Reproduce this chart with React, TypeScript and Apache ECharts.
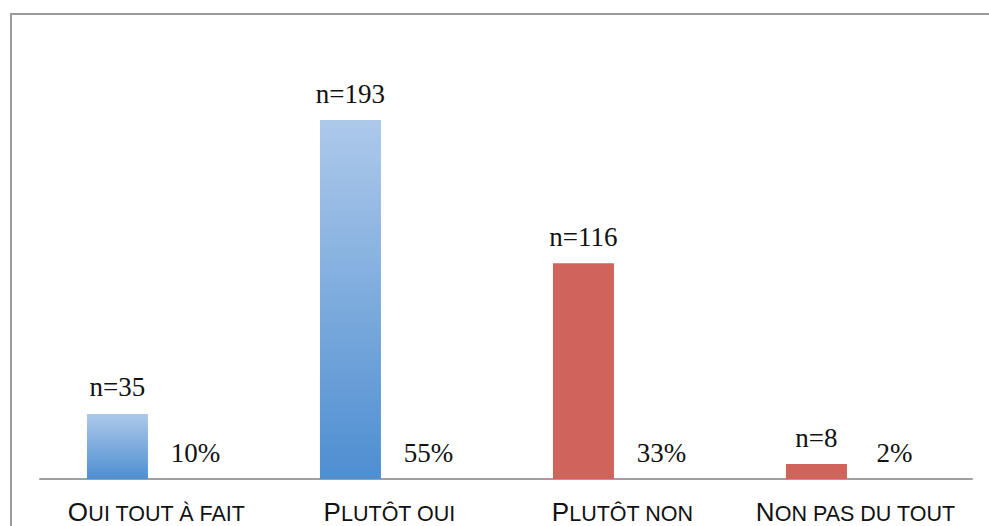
import React, { useEffect, useRef } from "react";
import * as echarts from "echarts";

// Survey answers, respondent counts and shares
const categories = ["Oui tout à fait", "Plutôt oui", "Plutôt non", "Non pas du tout"];
const counts = [35, 193, 116, 8];
const shares = [10, 55, 33, 2];

const blueGradient = new echarts.graphic.LinearGradient(0, 0, 0, 1, [
  { offset: 0, color: "#adc9ea" },
  { offset: 1, color: "#4e8ed1" },
]);
const red = "#d0645b";

// Small-caps style: first letter large, rest upper case in smaller size
function smallCaps(label: string): string {
  const first = label.charAt(0).toUpperCase();
  const rest = label.slice(1).toUpperCase();
  return `{a|${first}}{b|${rest}}`;
}

export default function App() {
  const ref = useRef<HTMLDivElement>(null);

  useEffect(() => {
    if (!ref.current) return;
    const chart = echarts.init(ref.current, undefined, { renderer: "svg" });
    chart.setOption({
      animation: false,
      grid: { left: 40, right: 17, top: 107, bottom: 47, containLabel: false },
      graphic: [
        {
          type: "rect",
          shape: { x: 11, y: 14, width: 1100, height: 700 },
          style: { fill: "none", stroke: "#9a9a9a", lineWidth: 2 },
          silent: true,
        },
      ],
      xAxis: {
        type: "category",
        data: categories,
        axisLine: { show: true, lineStyle: { color: "#a0a0a0", width: 2 } },
        axisTick: { show: false },
        axisLabel: {
          interval: 0,
          margin: 28,
          color: "#111",
          fontFamily: "Liberation Sans",
          formatter: (v: string) => smallCaps(v),
          rich: {
            a: { fontSize: 26, lineHeight: 18, fontFamily: "Liberation Sans", color: "#111", verticalAlign: "bottom" },
            b: { fontSize: 21.5, lineHeight: 18, fontFamily: "Liberation Sans", color: "#111", verticalAlign: "bottom" },
          },
        },
      },
      yAxis: [
        { type: "value", min: 0, max: 200, show: false, splitLine: { show: false } },
        { type: "value", min: 0, max: 100, show: false, splitLine: { show: false } },
      ],
      series: [
        {
          type: "bar",
          yAxisIndex: 0,
          data: counts.map((v, i) => ({
            value: v,
            itemStyle: { color: i < 2 ? blueGradient : red },
          })),
          barWidth: 61,
          barGap: "28%",
          label: {
            show: true,
            position: "top",
            distance: 13,
            fontFamily: "Liberation Serif",
            fontSize: 27,
            color: "#111",
            formatter: (p: any) => `n=${p.value}`,
          },
        },
        {
          type: "bar",
          yAxisIndex: 1,
          data: shares,
          barWidth: 61,
          itemStyle: { color: "rgba(0,0,0,0)" },
          label: {
            show: true,
            position: "insideBottom",
            distance: 13,
            fontFamily: "Liberation Serif",
            fontSize: 27,
            color: "#111",
            formatter: (p: any) => `${p.value}%`,
          },
        },
      ],
    });
    return () => chart.dispose();
  }, []);

  return (
    <div
      ref={ref}
      style={{ position: "fixed", left: 0, top: 0, width: 989, height: 526, background: "#fff" }}
    />
  );
}
